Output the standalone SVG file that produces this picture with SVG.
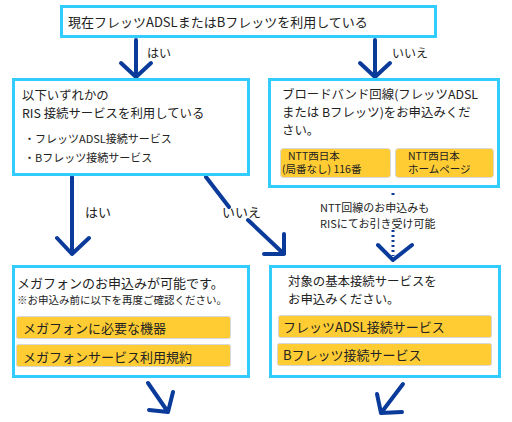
<svg xmlns="http://www.w3.org/2000/svg" width="512" height="422" viewBox="0 0 512 422">
<defs>
<style>
text{font-family:"Noto Sans CJK JP","Noto Sans",sans-serif;fill:#222;}
.box{fill:#fff;stroke:#33ccff;stroke-width:3;}
.btn{fill:#ffcc33;stroke:#d8d8d8;stroke-width:1;}
.arr{fill:none;stroke:#0a3a9a;stroke-width:4;stroke-linecap:round;stroke-linejoin:round;}
.dot{fill:none;stroke:#0a3a9a;stroke-width:3;stroke-dasharray:2 3;}
.t13{font-size:13px;}
.t124{font-size:12.4px;}
.t12{font-size:12px;}
.t11{font-size:11px;}
.t10{font-size:10.5px;}
</style>
</defs>
<rect width="512" height="422" fill="#fff"/>
<g id="connectors">
<path class="arr" d="M136 40V77M121 63L136 77L151 63"/>
<path class="arr" d="M375 40V77M360 63L375 77L390 63"/>
<path class="arr" d="M72 177V254M57 238L72 254L89 238"/>
<path class="arr" d="M206 177L229 207M248 220L284 254M284 234V254M264 254H284"/>
<path class="dot" d="M393 193V196M393 230V256"/>
<path class="arr" d="M378 245L393 260L412 245"/>
<path class="arr" d="M148 383L168 412M173 392L168 412L149 410"/>
<path class="arr" d="M403 384L381 413M377 394L381 413L402 412"/>
<text class="t12" x="147" y="58">はい</text>
<text class="t12" x="392" y="58">いいえ</text>
<text class="t13" x="85" y="217">はい</text>
<text class="t13" x="222" y="217">いいえ</text>
<text class="t11" x="320" y="212">NTT回線のお申込みも<tspan x="320" dy="16">RISにてお引き受け可能</tspan></text>
</g>
<g id="n1">
<rect class="box" x="61.5" y="6.5" width="374" height="30"/>
<text class="t13" x="68" y="27">現在フレッツADSLまたはBフレッツを利用している</text>
</g>
<g id="n2">
<rect class="box" x="13.5" y="79.5" width="235" height="95"/>
<text class="t124" x="22" y="99.5">以下いずれかの<tspan x="22" dy="18">RIS 接続サービスを利用している</tspan></text>
<text class="t11" x="24" y="143">・フレッツADSL接続サービス<tspan x="24" dy="19">・Bフレッツ接続サービス</tspan></text>
</g>
<g id="n3">
<rect class="box" x="269.5" y="79.5" width="229" height="107"/>
<text class="t124" x="282" y="99">ブロードバンド回線(フレッツADSL<tspan x="282" dy="18">または Bフレッツ)をお申込みくだ</tspan><tspan x="282" dy="18">さい。</tspan></text>
<rect class="btn" x="280.5" y="148.5" width="110" height="29" rx="3"/>
<text class="t10" x="288" y="159.5">NTT西日本<tspan x="282" dy="13.5">(局番なし) 116番</tspan></text>
<rect class="btn" x="395.5" y="148.5" width="98" height="29" rx="3"/>
<text class="t10" x="408" y="159.5">NTT西日本<tspan x="408" dy="13.5">ホームページ</tspan></text>
</g>
<g id="n4">
<rect class="box" x="13.5" y="266.5" width="235" height="110"/>
<text class="t13" x="17" y="287.5">メガフォンのお申込みが可能です。<tspan style="font-size:10.5px" x="17" dy="16">※お申込み前に以下を再度ご確認ください。</tspan></text>
<rect class="btn" x="16.5" y="316.5" width="214" height="22" rx="2"/>
<text class="t13" x="23" y="333">メガフォンに必要な機器</text>
<rect class="btn" x="16.5" y="344.5" width="214" height="22" rx="2"/>
<text class="t13" x="23" y="362">メガフォンサービス利用規約</text>
</g>
<g id="n5">
<rect class="box" x="270.5" y="266.5" width="229" height="110"/>
<text class="t124" x="288" y="285.5">対象の基本接続サービスを<tspan x="288" dy="18">お申込みください。</tspan></text>
<rect class="btn" x="278.5" y="315.5" width="213" height="22" rx="2"/>
<text class="t13" x="283" y="332">フレッツADSL接続サービス</text>
<rect class="btn" x="277.5" y="343.5" width="214" height="22" rx="2"/>
<text class="t13" x="283" y="360">Bフレッツ接続サービス</text>
</g>
</svg>
